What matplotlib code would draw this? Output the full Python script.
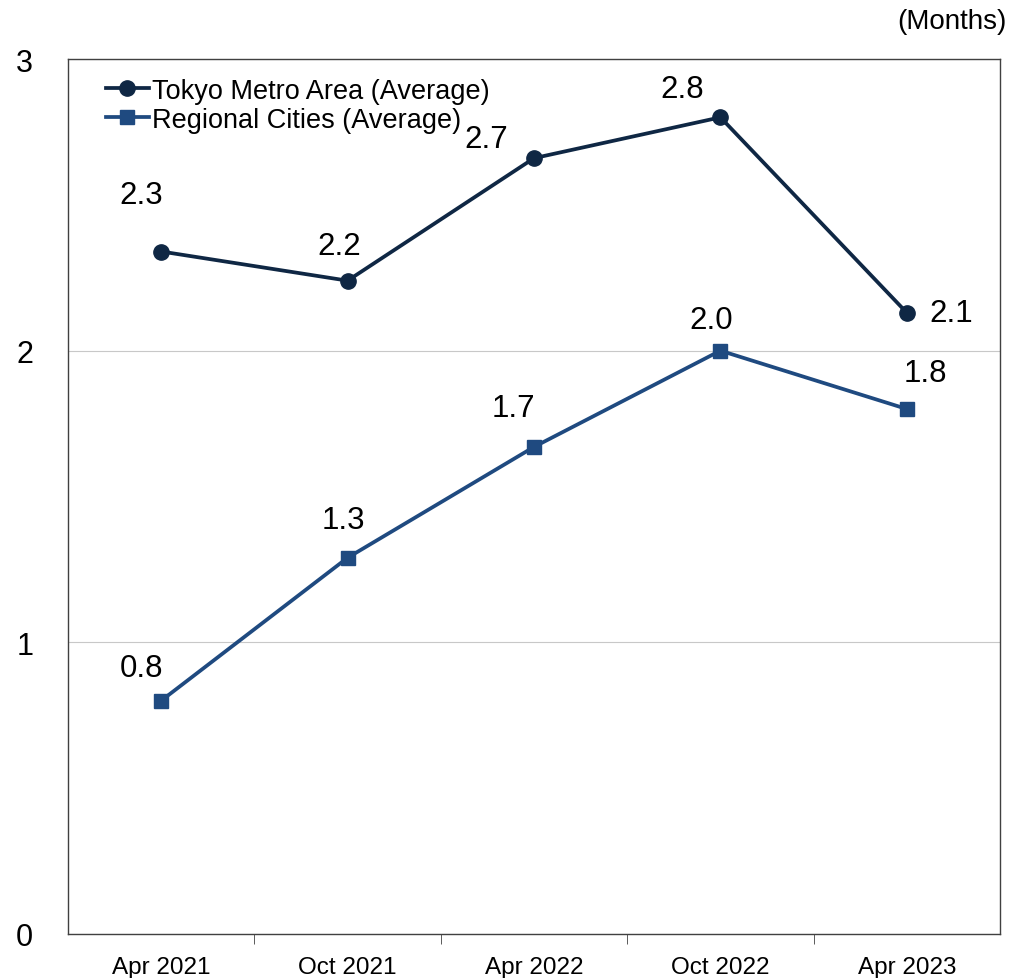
import matplotlib.pyplot as plt
import numpy as np

plt.rcParams['font.family'] = ['Liberation Sans', 'DejaVu Sans']

periods = ['Apr 2021', 'Oct 2021', 'Apr 2022', 'Oct 2022', 'Apr 2023']
tokyo = [2.34, 2.24, 2.66, 2.80, 2.13]
regional = [0.80, 1.29, 1.67, 2.00, 1.80]

# label offsets in pixels (dx, dy) for each point
tokyo_off = [(-20, 56), (-8, 35), (-48, 19), (-38, 28), (44, 0)]
regional_off = [(-20, 33), (-4, 38), (-21, 39), (-9, 31), (19, 36)]

c_tokyo = '#0f2744'
c_reg = '#1f4a80'

fig = plt.figure(figsize=(10.09, 9.79), dpi=100)
ax = fig.add_axes([68 / 1009, 44 / 979, 932 / 1009, 875 / 979])

x = np.arange(len(periods))
ax.plot(x, tokyo, color=c_tokyo, linewidth=2.7, marker='o', markersize=11,
        label='Tokyo Metro Area (Average)', zorder=3)
ax.plot(x, regional, color=c_reg, linewidth=2.7, marker='s', markersize=10,
        label='Regional Cities (Average)', zorder=3)

for xi, v, off in zip(x, tokyo, tokyo_off):
    ax.annotate(f'{v:.1f}', (xi, v), xytext=off, textcoords='offset pixels',
                ha='center', va='center', fontsize=22.5)
for xi, v, off in zip(x, regional, regional_off):
    ax.annotate(f'{v:.1f}', (xi, v), xytext=off, textcoords='offset pixels',
                ha='center', va='center', fontsize=22.5)

ax.set_xlim(-0.5, len(periods) - 0.5)
ax.set_ylim(0, 3)
ax.set_yticks([0, 1, 2, 3])
ax.tick_params(axis='y', length=0, labelsize=22, pad=25)
ax.set_xticks(x)
ax.set_xticklabels(periods, fontsize=17.5)
ax.tick_params(axis='x', which='major', length=0, pad=16)
ax.set_xticks(np.arange(0.5, len(periods) - 1, 1), minor=True)
ax.tick_params(axis='x', which='minor', length=7, direction='out', color='#404040')

ax.grid(axis='y', color='#c8c8c8', linewidth=0.8)
ax.set_axisbelow(True)
for s in ax.spines.values():
    s.set_color('#404040')
    s.set_linewidth(1.0)

ax.legend(loc='upper left', frameon=False, fontsize=19.5, handlelength=1.6,
          handletextpad=0.1, labelspacing=0.1, borderaxespad=0.3,
          bbox_to_anchor=(0.02, 1.0))

fig.text(0.998, 0.978, '(Months)', ha='right', va='center', fontsize=20)

fig.savefig('out.png', dpi=100)
